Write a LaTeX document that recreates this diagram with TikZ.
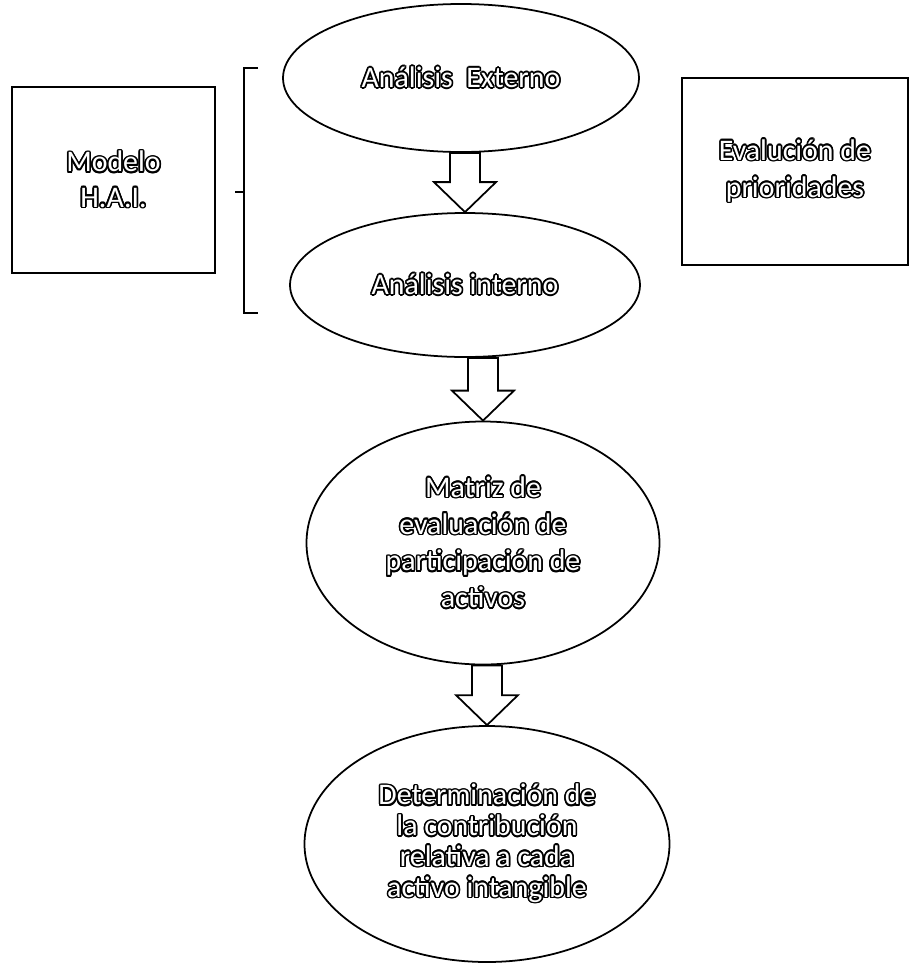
\documentclass[tikz,border=0pt]{standalone}
\usepackage{fontspec}
\setmainfont{Carlito}
\usepackage{contour}
\contourlength{0.9pt}
\usetikzlibrary{shapes.geometric,calc}

\tikzset{
  oval/.style={ellipse, draw, line width=1pt, inner sep=0pt, align=center, text=white,
    font=\fontsize{17}{17.5}\selectfont},
  caja/.style={rectangle, draw, line width=0.8pt, align=center, text=white,
    font=\fontsize{17}{20}\selectfont},
  flecha/.style={draw, line width=1pt, fill=white, line join=miter}
}
\newcommand{\contorno}[1]{\contour{black}{#1}}
\newcommand{\bloque}[2]{%
  \draw[flecha] let \p1=(#1.south), \p2=(#2.north) in
    (\x2-0.3cm,\y1) -- (\x2-0.3cm,\y2+0.6cm) -- (\x2-0.62cm,\y2+0.6cm) -- (\x2,\y2)
    -- (\x2+0.62cm,\y2+0.6cm) -- (\x2+0.3cm,\y2+0.6cm) -- (\x2+0.3cm,\y1) -- cycle;}

\begin{document}
\begin{tikzpicture}
   \useasboundingbox (0,0) rectangle (18.2,-19.42);
   \node[oval, minimum width=7.12cm, minimum height=2.96cm] (ext) at (9.22,-1.56)
      {\contorno{Análisis\ \ Externo}};
   \node[oval, minimum width=7.0cm, minimum height=2.88cm] (int) at (9.30,-5.70)
      {\contorno{Análisis interno}};
   \node[oval, minimum width=7.06cm, minimum height=4.86cm,
      font=\fontsize{17}{21}\selectfont] (mat) at (9.66,-10.86)
      {\contorno{Matriz de}\\\contorno{evaluación de}\\
       \contorno{participación de}\\\contorno{activos}};
   \node[oval, minimum width=7.3cm, minimum height=4.72cm] (det) at (9.74,-16.88)
      {\contorno{Determinación de}\\\contorno{la contribución}\\
       \contorno{relativa a cada}\\\contorno{activo intangible}};
   \node[caja, minimum width=4.06cm, minimum height=3.72cm] (hai) at (2.27,-3.6)
      {\contorno{Modelo}\\\contorno{H.A.I.}};
   \node[caja, minimum width=4.52cm, minimum height=3.74cm,
      font=\fontsize{17}{21}\selectfont] (prio) at (15.9,-3.43)
      {\contorno{Evalución de}\\\contorno{prioridades}};
   % corchete del modelo
   \draw[line width=0.8pt] (5.16,-1.36) -- (4.88,-1.36) -- (4.88,-6.26) -- (5.16,-6.26);
   \draw[line width=0.8pt] (4.88,-3.84) -- (4.70,-3.84);
   \bloque{ext}{int}
   \bloque{int}{mat}
   \bloque{mat}{det}
\end{tikzpicture}
\end{document}
